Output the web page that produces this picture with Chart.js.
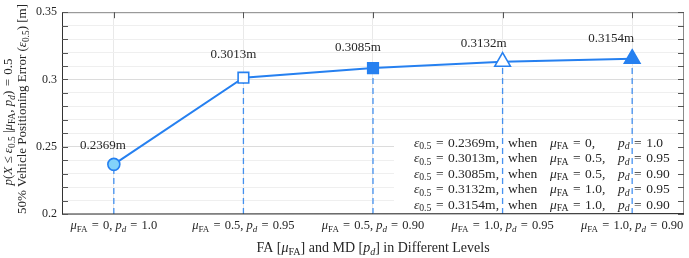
<!DOCTYPE html>
<html>
<head>
<meta charset="utf-8">
<script src="https://cdn.jsdelivr.net/npm/chart.js@4"></script>
<style>
  html, body { margin: 0; padding: 0; background: #fff; }
  #wrap { width: 689px; height: 258px; position: relative; }
</style>
</head>
<body>
<div id="wrap"><canvas id="errChart" width="689" height="258"></canvas></div>
<script>
// 資料
const faLevels = ['0', '0.5', '0.5', '1.0', '1.0'];
const pdLevels = ['1.0', '0.95', '0.90', '0.95', '0.90'];
const errorValues = [0.2369, 0.3013, 0.3085, 0.3132, 0.3154];
const yTickLabels = ['0.2', '0.25', '0.3', '0.35'];
const yMin = 0.2, yMax = 0.35;

const FONT = '"Liberation Serif", "DejaVu Serif", serif';
const BLUE = '#2680f0';
const TEXT = '#262626';
const EQ = '\u2004=\u2004';

// 簡易數學文字：r 正體, i 斜體, sr/si 下標
function richFont(style, fs) {
    const size = style[0] === 's' ? fs * 0.72 : fs;
    return (style.includes('i') ? 'italic ' : '') + size + 'px ' + FONT;
}
function drawRich(ctx, segs, x, y, align, fs) {
    let w = 0;
    segs.forEach(([t, s]) => { ctx.font = richFont(s, fs); w += ctx.measureText(t).width; });
    let cx = align === 'center' ? x - w / 2 : align === 'right' ? x - w : x;
    ctx.textAlign = 'left';
    ctx.textBaseline = 'middle';
    ctx.fillStyle = TEXT;
    segs.forEach(([t, s]) => {
        ctx.font = richFont(s, fs);
        ctx.fillText(t, cx, y + (s[0] === 's' ? fs * 0.28 : 0));
        cx += ctx.measureText(t).width;
    });
}

const mainPoints = errorValues.map((v, i) => ({ x: i, y: v }));
const dropLines = errorValues.map((v, i) => ({
    data: [{ x: i, y: yMin }, { x: i, y: v }],
    borderColor: 'rgba(38,128,240,0.85)',
    borderWidth: 1.3,
    borderDash: [6, 4],
    pointRadius: 0,
    order: 2
}));

const minorTicks = [];
for (let k = 20; k <= 35; k++) minorTicks.push(k / 100);

const decorPlugin = {
    id: 'decor',
    beforeDatasetsDraw(chart) {
        const { ctx, chartArea: a } = chart;
        // 圖例文字底框
        ctx.save();
        ctx.fillStyle = '#fff';
        ctx.fillRect(a.right - 290, a.bottom - 78, 290, 78);
        ctx.restore();
    },
    afterDatasetsDraw(chart) {
        const { ctx, chartArea: a, scales } = chart;
        const xs = scales.x, ys = scales.y;
        ctx.save();
        // 數值標籤
        const dx = [-11, -10, -15, -19, -21];
        const dy = [-19, -23, -20, -18, -20];
        errorValues.forEach((v, i) => {
            ctx.font = '13px ' + FONT;
            ctx.fillStyle = TEXT;
            ctx.textAlign = 'center';
            ctx.textBaseline = 'middle';
            ctx.fillText(v.toFixed(4) + 'm', xs.getPixelForValue(i) + dx[i], ys.getPixelForValue(v) + dy[i]);
        });
        // 右下說明
        errorValues.forEach((v, i) => {
            const y = a.bottom - 9 - (errorValues.length - 1 - i) * 15.5;
            drawRich(ctx, [['ε', 'i'], ['0.5', 'sr'], [EQ + v.toFixed(4) + 'm,', 'r']], a.right - 185, y, 'right', 13.5);
            drawRich(ctx, [['when', 'r']], a.right - 176, y, 'left', 13.5);
            drawRich(ctx, [['μ', 'i'], ['FA', 'sr'], [EQ + faLevels[i] + ',', 'r']], a.right - 134, y, 'left', 13.5);
            drawRich(ctx, [['p', 'i'], ['d', 'si'], [EQ + pdLevels[i], 'r']], a.right - 66, y, 'left', 13.5);
        });
        ctx.restore();
    },
    afterDraw(chart) {
        const { ctx, chartArea: a, scales } = chart;
        const xs = scales.x, ys = scales.y;
        ctx.save();
        // 外框
        ctx.lineWidth = 1;
        ctx.strokeStyle = '#8a8a8a';
        ctx.beginPath();
        ctx.moveTo(a.left, a.top + 0.5); ctx.lineTo(a.right, a.top + 0.5);
        ctx.moveTo(a.right - 0.5, a.top); ctx.lineTo(a.right - 0.5, a.bottom);
        ctx.stroke();
        ctx.strokeStyle = '#333';
        ctx.beginPath();
        ctx.moveTo(a.left + 0.5, a.top); ctx.lineTo(a.left + 0.5, a.bottom);
        ctx.lineTo(a.right, a.bottom - 0.5);
        ctx.stroke();
        // 內向刻度
        ctx.strokeStyle = '#555';
        ctx.beginPath();
        minorTicks.forEach(v => {
            const y = Math.round(ys.getPixelForValue(v)) + 0.5;
            ctx.moveTo(a.left, y); ctx.lineTo(a.left + 6, y);
            ctx.moveTo(a.right, y); ctx.lineTo(a.right - 6, y);
        });
        errorValues.forEach((v, i) => {
            const x = Math.round(xs.getPixelForValue(i)) + 0.5;
            ctx.moveTo(x, a.top); ctx.lineTo(x, a.top + 6);
        });
        ctx.stroke();
        // X 軸標籤
        errorValues.forEach((v, i) => {
            drawRich(ctx, [['μ', 'i'], ['FA', 'sr'], [EQ + faLevels[i] + ', ', 'r'], ['p', 'i'], ['d', 'si'], [EQ + pdLevels[i], 'r']],
                xs.getPixelForValue(i), a.bottom + 12, 'center', 12.5);
        });
        // 軸標題
        drawRich(ctx, [['FA [', 'r'], ['μ', 'i'], ['FA', 'sr'], ['] and MD [', 'r'], ['p', 'i'], ['d', 'si'], ['] in Different Levels', 'r']],
            (a.left + a.right) / 2, 248, 'center', 14);
        ctx.save();
        ctx.translate(9, 122);
        ctx.rotate(-Math.PI / 2);
        drawRich(ctx, [['p', 'i'], ['(', 'r'], ['X', 'i'], [' ≤ ', 'r'], ['ε', 'i'], ['0.5', 'sr'], [' |', 'r'], ['μ', 'i'], ['FA', 'sr'], [', ', 'r'], ['p', 'i'], ['d', 'si'], [')' + EQ + '0.5', 'r']], 0, 0, 'center', 13);
        ctx.restore();
        ctx.translate(23, 109);
        ctx.rotate(-Math.PI / 2);
        drawRich(ctx, [['50% Vehicle Positioning Error (', 'r'], ['ε', 'i'], ['0.5', 'sr'], [') [m]', 'r']], 0, 0, 'center', 13);
        ctx.restore();
    }
};

new Chart(document.getElementById('errChart'), {
    type: 'line',
    data: {
        datasets: [{
            data: mainPoints,
            borderColor: BLUE,
            borderWidth: 2,
            pointStyle: ['circle', 'rect', 'rect', 'triangle', 'triangle'],
            pointRadius: [6, 7.5, 7.5, 9, 9],
            pointBackgroundColor: ['#82d2fa', '#fff', BLUE, '#fff', BLUE],
            pointBorderColor: BLUE,
            pointBorderWidth: 1.6,
            order: 0
        }, ...dropLines]
    },
    options: {
        responsive: false,
        animation: false,
        devicePixelRatio: 1,
        layout: { autoPadding: false, padding: { top: 11, right: 5, left: 0, bottom: 0 } },
        plugins: { legend: { display: false }, tooltip: { enabled: false } },
        scales: {
            x: {
                type: 'linear',
                min: -0.4,
                max: 4.4,
                afterBuildTicks: s => { s.ticks = errorValues.map((v, i) => ({ value: i })); },
                afterFit: s => { s.height = 44; },
                ticks: { display: false },
                grid: { color: '#e9e9e9', drawTicks: false },
                border: { display: false }
            },
            y: {
                min: yMin,
                max: yMax,
                afterBuildTicks: s => { s.ticks = minorTicks.map(v => ({ value: v })); },
                afterFit: s => { s.width = 62; },
                ticks: {
                    autoSkip: false,
                    padding: 5,
                    color: TEXT,
                    font: { family: FONT, size: 12 },
                    callback: v => yTickLabels.find(t => Math.abs(parseFloat(t) - v) < 1e-6) || ''
                },
                grid: {
                    drawTicks: false,
                    color: c => yTickLabels.some(t => Math.abs(parseFloat(t) - c.tick.value) < 1e-6) ? '#dcdcdc' : '#efefef'
                },
                border: { display: false }
            }
        }
    },
    plugins: [decorPlugin]
});
</script>
</body>
</html>
